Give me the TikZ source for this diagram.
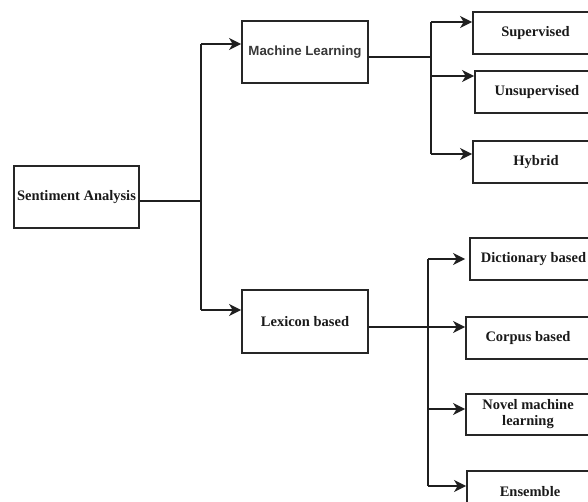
\documentclass[tikz,border=0pt]{standalone}
\usepackage{fontspec}
\setmainfont{Liberation Serif}
\newfontfamily\mlfont{Liberation Sans}
\usetikzlibrary{arrows.meta}
\tikzset{
  box/.style={draw=black!85, line width=1.8pt, fill=white, inner sep=0pt,
    font=\fontsize{14.5}{16}\selectfont\bfseries, text=black!90},
  conn/.style={draw=black!88, line width=1.8pt},
  arr/.style={conn, -{Stealth[length=12pt, width=12pt, inset=3.5pt]}},
}
\begin{document}
\begin{tikzpicture}[x=1pt, y=-1pt]
\useasboundingbox (0,0) rectangle (588,502);
\clip (0,0) rectangle (588,502);
% nodes
\node[box, minimum width=125pt, minimum height=62pt] (sa) at (76.5,197) {Sentiment Analysis};
\node[box, minimum width=126pt, minimum height=62pt, font=\mlfont\fontsize{13.3}{16}\selectfont\bfseries, text=black!78] (ml) at (305,52) {Machine Learning};
\node[box, minimum width=126pt, minimum height=63pt] (lx) at (305,321.5) {Lexicon based};
\node[box, minimum width=125pt, minimum height=42pt] (sup) at (535.5,33) {Supervised};
\node[box, minimum width=124pt, minimum height=42pt] (uns) at (537,92) {Unsupervised};
\node[box, minimum width=126pt, minimum height=42pt] (hyb) at (536,162) {Hybrid};
\node[box, minimum width=127pt, minimum height=42pt] (dic) at (533.5,259) {Dictionary based};
\node[box, minimum width=124pt, minimum height=42pt] (cor) at (528,338) {Corpus based};
\node[box, minimum width=124pt, minimum height=41pt, align=center] (nov) at (528,414.5) {Novel machine\\learning};
\node[box, minimum width=126pt, minimum height=42pt] (ens) at (530,492) {Ensemble};
% trunk coordinates
\coordinate (j0) at (201,201);
\coordinate (t1) at (201,44);
\coordinate (t2) at (201,310);
\coordinate (m0) at (431,57);
\coordinate (m1) at (431,22);
\coordinate (m2) at (431,76);
\coordinate (m3) at (431,154);
\coordinate (l0) at (428,327);
\coordinate (l1) at (428,259);
\coordinate (l2) at (428,327);
\coordinate (l3) at (428,409);
\coordinate (l4) at (428,486);
% connectors
\draw[conn] (sa.east |- j0) -- (j0);
\draw[conn] (t1) -- (t2);
\draw[arr] (t1) -- (t1 -| ml.west);
\draw[arr] (t2) -- (t2 -| lx.west);
\draw[conn] (ml.east |- m0) -- (m0);
\draw[conn] (m1) -- (m3);
\draw[arr] (m1) -- (m1 -| sup.west);
\draw[arr] (m2) -- (m2 -| uns.west);
\draw[arr] (m3) -- (m3 -| hyb.west);
\draw[conn] (lx.east |- l0) -- (l0);
\draw[conn] (l1) -- (l4);
\draw[arr, shorten >=4pt] (l1) -- (l1 -| dic.west);
\draw[arr] (l2) -- (l2 -| cor.west);
\draw[arr] (l3) -- (l3 -| nov.west);
\draw[arr] (l4) -- (l4 -| ens.west);
\end{tikzpicture}
\end{document}
